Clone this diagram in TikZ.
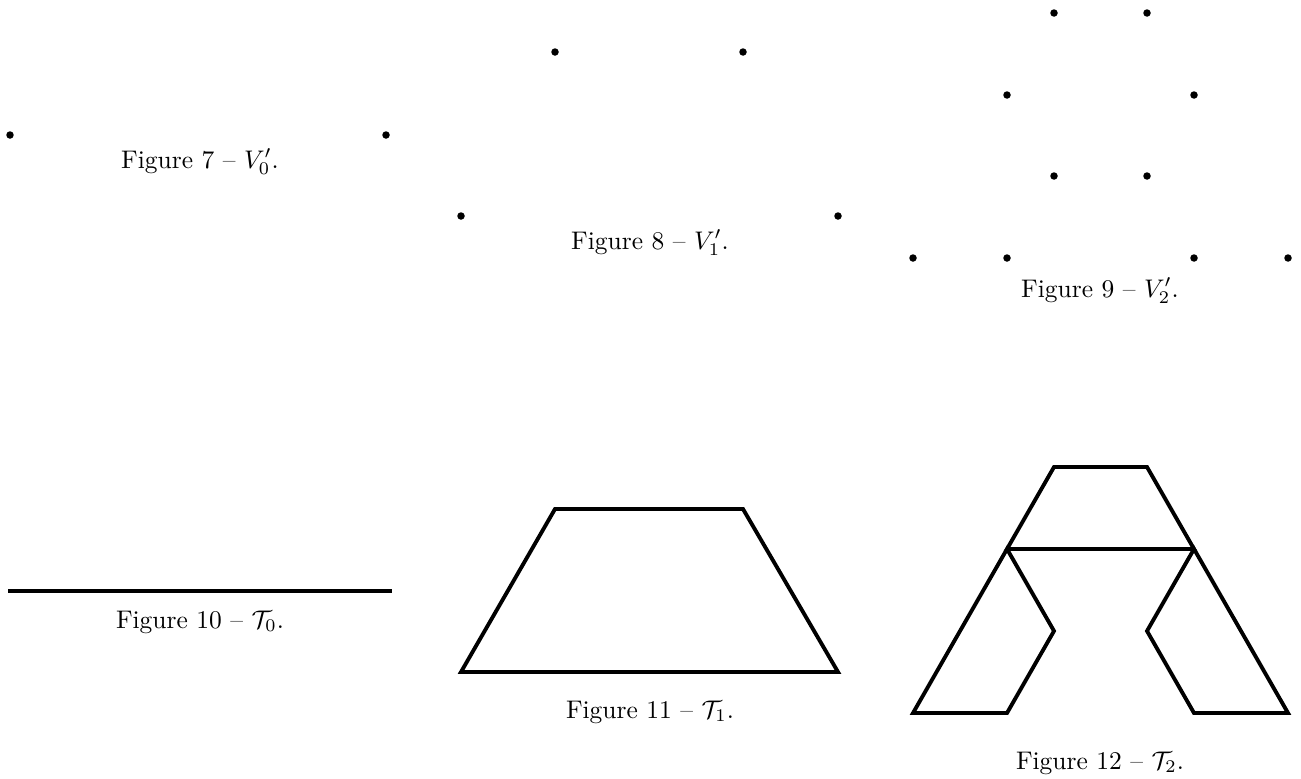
\documentclass[tikz,border=0pt]{standalone}
\usepackage{amsmath,amssymb}
\usepackage{tikz}
\usetikzlibrary{positioning}
\tikzset{
  curve/.style={black,line width=2.2pt,line join=miter,line cap=rect},
  vertex/.style={circle,fill=black,inner sep=0pt,minimum size=1.5mm},
  caption/.style={font=\normalsize,scale=1.45,anchor=base},
}

\begin{document}
\begin{tikzpicture}[x=0.02cm,y=-0.02cm]
  \path[use as bounding box] (0,0) rectangle (1301,778);

  % V'_0
  \node[vertex] (a1) at (10,135) {};
  \node[vertex] (a2) at (386,135) {};
  \node[caption] (cap7) at (200,168) {Figure 7 -- $V'_0$.};

  % V'_1
  \node[vertex] (b1) at (555,52) {};
  \node[vertex] (b2) at (743,52) {};
  \node[vertex] (b3) at (461,216) {};
  \node[vertex] (b4) at (838,216) {};
  \node[caption] (cap8) at (650,249) {Figure 8 -- $V'_1$.};

  % V'_2
  \node[vertex] (c1) at (1054,13) {};
  \node[vertex] (c2) at (1147,13) {};
  \node[vertex] (c3) at (1007,95) {};
  \node[vertex] (c4) at (1194,95) {};
  \node[vertex] (c5) at (1054,176) {};
  \node[vertex] (c6) at (1147,176) {};
  \node[vertex] (c7) at (913,258) {};
  \node[vertex] (c8) at (1007,258) {};
  \node[vertex] (c9) at (1194,258) {};
  \node[vertex] (c10) at (1288,258) {};
  \node[caption] (cap9) at (1100,297) {Figure 9 -- $V'_2$.};

  % T_0
  \coordinate (p1) at (10,591);
  \coordinate (p2) at (390,591);
  \draw[curve] (p1) -- (p2);
  \node[caption] (cap10) at (200,628) {Figure 10 -- $\mathcal{T}_0$.};

  % T_1
  \coordinate (q1) at (461,672);
  \coordinate (q2) at (555,509);
  \coordinate (q3) at (743,509);
  \coordinate (q4) at (838,672);
  \draw[curve] (q1) -- (q2) -- (q3) -- (q4) -- cycle;
  \node[caption] (cap11) at (650,718) {Figure 11 -- $\mathcal{T}_1$.};

  % T_2
  \coordinate (r1) at (913,713);
  \coordinate (r2) at (1007,549);
  \coordinate (r3) at (1054,467);
  \coordinate (r4) at (1147,467);
  \coordinate (r5) at (1194,549);
  \coordinate (r6) at (1288,713);
  \coordinate (r7) at (1194,713);
  \coordinate (r8) at (1147,631);
  \coordinate (r9) at (1054,631);
  \coordinate (r10) at (1007,713);
  \draw[curve] (r2) -- (r3) -- (r4) -- (r5) -- cycle;
  \draw[curve] (r2) -- (r1) -- (r10) -- (r9) -- cycle;
  \draw[curve] (r5) -- (r6) -- (r7) -- (r8) -- cycle;
  \node[caption] (cap12) at (1100,769) {Figure 12 -- $\mathcal{T}_2$.};
\end{tikzpicture}
\end{document}
